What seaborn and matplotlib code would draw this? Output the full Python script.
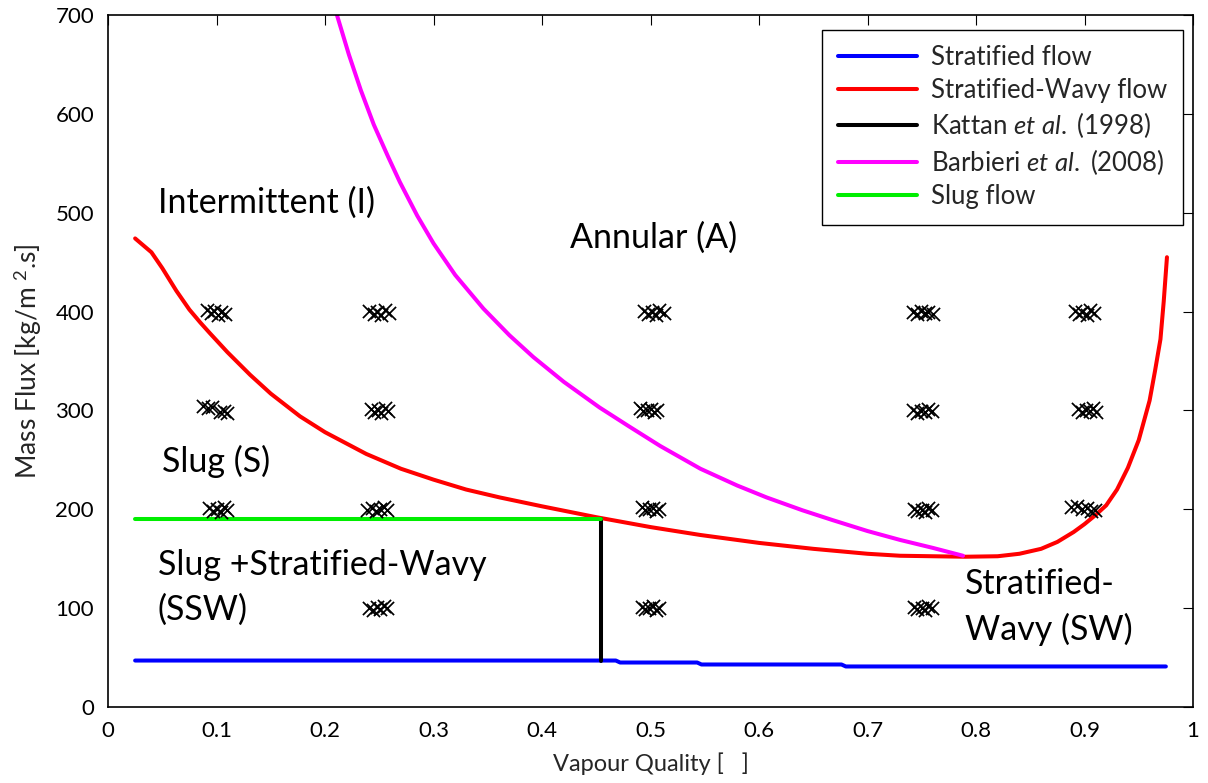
import matplotlib
matplotlib.use("Agg")
import matplotlib.pyplot as plt
import seaborn as sns
import pandas as pd

# ---- boundary curves (vapour quality x, mass flux G in kg/m2.s) ----
strat_x = [0.025, 0.468, 0.472, 0.543, 0.547, 0.676, 0.680, 0.975]
strat_G = [47, 47, 45, 45, 43, 43, 41, 41]

sw_x = [0.025, 0.040, 0.050, 0.063, 0.075, 0.085, 0.094, 0.110, 0.131, 0.150,
        0.177, 0.200, 0.238, 0.270, 0.300, 0.330, 0.361, 0.400, 0.450, 0.500,
        0.546, 0.600, 0.650, 0.700, 0.730, 0.760, 0.790, 0.820, 0.840, 0.860,
        0.875, 0.890, 0.900, 0.910, 0.920, 0.930, 0.940, 0.950, 0.960, 0.965,
        0.970, 0.973, 0.976]
sw_G = [474, 460, 444, 421, 402, 389, 378, 359, 336, 317,
        294, 278, 256, 241, 230, 220, 212, 203, 192, 182,
        174, 166, 160, 155, 153, 152.5, 152, 152.5, 155, 160,
        167, 177, 185, 194, 204, 220, 242, 270, 310, 340,
        372, 410, 455]

kattan_x = [0.454, 0.454]
kattan_G = [47, 190]

barbieri_x = [0.211, 0.222, 0.233, 0.245, 0.258, 0.269, 0.285, 0.300, 0.320,
              0.346, 0.370, 0.392, 0.420, 0.453, 0.480, 0.509, 0.546, 0.580,
              0.607, 0.640, 0.668, 0.700, 0.730, 0.760, 0.788]
barbieri_G = [700, 660, 624, 589, 557, 531, 497, 469, 437,
              403, 376, 354, 329, 303, 284, 264, 241, 224,
              212, 199, 189, 178, 169, 161, 153]

slug_x = [0.025, 0.454]
slug_G = [190, 190]

# ---- experimental runs (repeated tests at each nominal condition) ----
test_x = [
    # G = 400
    0.091, 0.095, 0.098, 0.101, 0.104, 0.108,
    0.241, 0.245, 0.248, 0.252, 0.255, 0.259,
    0.494, 0.498, 0.501, 0.505, 0.508, 0.512,
    0.742, 0.746, 0.749, 0.753, 0.756, 0.760,
    0.891, 0.895, 0.898, 0.902, 0.905, 0.909,
    # G = 300
    0.088, 0.092, 0.096, 0.103, 0.107, 0.110,
    0.242, 0.245, 0.249, 0.252, 0.255, 0.258,
    0.490, 0.493, 0.497, 0.500, 0.503, 0.506,
    0.742, 0.746, 0.749, 0.753, 0.756, 0.759,
    0.894, 0.898, 0.901, 0.905, 0.908, 0.911,
    # G = 200
    0.093, 0.097, 0.100, 0.104, 0.107, 0.110,
    0.239, 0.243, 0.247, 0.251, 0.254, 0.257,
    0.492, 0.495, 0.499, 0.502, 0.505, 0.508,
    0.743, 0.746, 0.750, 0.753, 0.756, 0.759,
    0.888, 0.893, 0.898, 0.902, 0.906, 0.910,
    # G = 100
    0.241, 0.244, 0.248, 0.251, 0.254, 0.257,
    0.492, 0.495, 0.499, 0.502, 0.505, 0.508,
    0.743, 0.746, 0.750, 0.753, 0.756, 0.759,
]
test_G = [
    402, 399, 401, 397, 400, 398,
    401, 398, 400, 397, 402, 399,
    401, 398, 400, 397, 402, 399,
    400, 398, 401, 399, 400, 398,
    401, 398, 400, 397, 402, 399,
    304, 302, 303, 298, 299, 297,
    301, 298, 300, 297, 302, 299,
    302, 299, 300, 301, 298, 300,
    300, 297, 299, 298, 301, 299,
    301, 298, 300, 299, 302, 298,
    201, 198, 200, 197, 202, 199,
    199, 201, 198, 200, 202, 199,
    202, 199, 200, 201, 198, 200,
    200, 198, 199, 197, 201, 199,
    202, 203, 200, 201, 198, 199,
    100, 98, 101, 99, 102, 100,
    101, 99, 100, 102, 98, 100,
    101, 99, 100, 98, 102, 100,
]

region_labels = [
    ("Intermittent (I)", 0.046, 510),
    ("Annular (A)", 0.426, 475),
    ("Slug (S)", 0.050, 248),
    ("Slug +Stratified-Wavy\n(SSW)", 0.046, 121),
    ("Stratified-\nWavy (SW)", 0.790, 101),
]

x_ticks = [0, 0.1, 0.2, 0.3, 0.4, 0.5, 0.6, 0.7, 0.8, 0.9, 1]
x_tick_labels = ["0", "0.1", "0.2", "0.3", "0.4", "0.5", "0.6", "0.7", "0.8", "0.9", "1"]
y_ticks = [0, 100, 200, 300, 400, 500, 600, 700]

sns.set_theme(style="white")
plt.rcParams["font.family"] = ["Lato", "DejaVu Sans"]
plt.rcParams["mathtext.fontset"] = "custom"
plt.rcParams["mathtext.rm"] = "Lato"
plt.rcParams["mathtext.it"] = "Lato:italic"

fig = plt.figure(figsize=(12.08, 7.83), dpi=100)
ax = fig.add_axes([108 / 1208, 1 - 707 / 783, (1193 - 108) / 1208, (707 - 15) / 783])

lw = 2.9
curves = [
    (strat_x, strat_G, "#0000ff", "Stratified flow"),
    (sw_x, sw_G, "#ff0000", "Stratified-Wavy flow"),
    (kattan_x, kattan_G, "#000000", r"Kattan $\mathit{et\ al.}$ (1998)"),
    (barbieri_x, barbieri_G, "#ff00ff", r"Barbieri $\mathit{et\ al.}$ (2008)"),
    (slug_x, slug_G, "#00ee00", "Slug flow"),
]
for xs, gs, col, lab in curves:
    df = pd.DataFrame({"x": xs, "G": gs})
    sns.lineplot(data=df, x="x", y="G", ax=ax, color=col, lw=lw, sort=False,
                 estimator=None, label=lab)

pts = pd.DataFrame({"x": test_x, "G": test_G})
sns.scatterplot(data=pts, x="x", y="G", ax=ax, marker="x", color="black",
                s=90, linewidth=1.25, zorder=5, legend=False)

for txt, xv, gv in region_labels:
    ax.text(xv, gv, txt, fontsize=24.5, va="center", ha="left", color="black",
            linespacing=1.5)

ax.set_xlim(0, 1)
ax.set_ylim(0, 700)
ax.set_xticks(x_ticks)
ax.set_xticklabels(x_tick_labels)
ax.set_yticks(y_ticks)
ax.tick_params(direction="in", length=7, width=0.8, top=True, right=True,
               labelsize=16, pad=10, colors="black")
for sp in ax.spines.values():
    sp.set_color("black")
    sp.set_linewidth(1.2)

ax.set_xlabel("Vapour Quality [   ]", fontsize=17, labelpad=8)
ax.set_ylabel(r"Mass Flux [kg/m $^{2}$.s]", fontsize=19, labelpad=8)

leg = ax.legend(loc="upper right", bbox_to_anchor=(0.9908, 0.9783),
                fontsize=18.5, frameon=True, fancybox=False,
                edgecolor="black", handlelength=3.1, handletextpad=0.55,
                borderpad=0.6, labelspacing=0.28, borderaxespad=0)
leg.get_frame().set_linewidth(1.0)
leg.get_frame().set_alpha(1)

fig.savefig("out.png", dpi=100, facecolor="white")
